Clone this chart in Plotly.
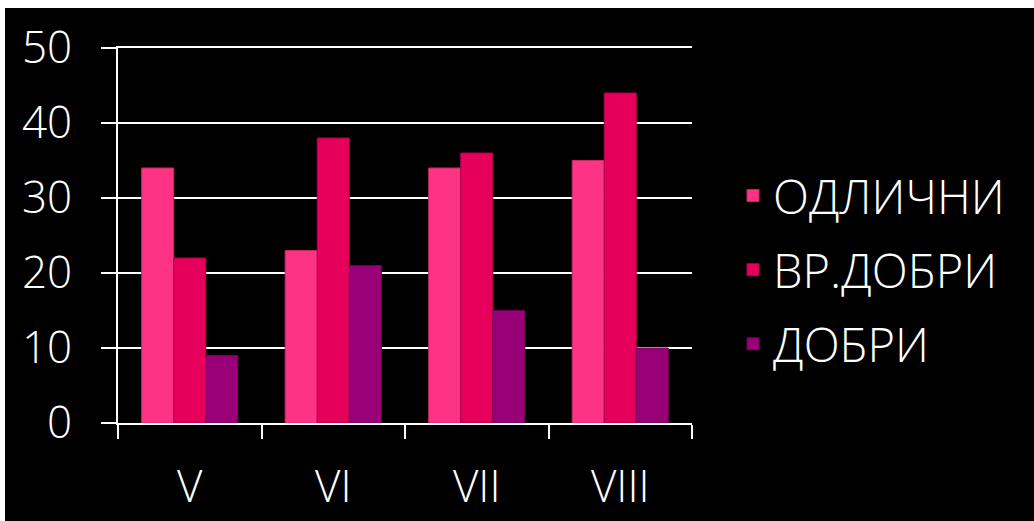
import plotly.graph_objects as go

categories = ["V", "VI", "VII", "VIII"]
series_names = ["ОДЛИЧНИ", "ВР.ДОБРИ", "ДОБРИ"]
odlichni = [34, 23, 34, 35]
vr_dobri = [22, 38, 36, 44]
dobri = [9, 21, 15, 10]
colors = ["#FF3385", "#E6005C", "#990078"]
edge_colors = ["#C8285F", "#B00048", "#700058"]

FONT = "Open Sans"
WT = 300

fig = go.Figure()
for name, vals, c, ec in zip(series_names, [odlichni, vr_dobri, dobri], colors, edge_colors):
    fig.add_trace(go.Bar(
        x=categories, y=vals, name=name, legendgroup=name,
        marker=dict(color=c, line=dict(color=ec, width=1)),
    ))

W, H = 1034, 521
L, R, T, B = 118, 342, 48, 98
pw, ph = W - L - R, H - T - B

fig.update_layout(
    width=W, height=H, autosize=False,
    margin=dict(l=L, r=R, t=T, b=B, pad=0, autoexpand=False),
    paper_bgcolor="black", plot_bgcolor="black",
    barmode="group", bargap=0.33, bargroupgap=0,
    font=dict(family=FONT, color="white", size=40, weight=WT),
    showlegend=True,
    legend=dict(
        x=(733 - L) / pw, y=(H - B - 270) / ph, xanchor="left", yanchor="middle",
        font=dict(family=FONT, size=47, color="white", weight=WT),
        bgcolor="rgba(0,0,0,0)", tracegroupgap=10,
    ),
    xaxis=dict(
        automargin=False,
        showgrid=False, showline=True, mirror=True, linecolor="white", linewidth=2,
        zeroline=False,
        ticks="outside", ticklen=14, tickwidth=2, tickcolor="white",
        tickson="boundaries", ticklabelstandoff=24,
        tickfont=dict(family=FONT, size=44, color="white", weight=WT),
    ),
    yaxis=dict(
        automargin=False,
        range=[0, 50], tickvals=[0, 10, 20, 30, 40, 50],
        showgrid=True, gridcolor="white", gridwidth=2,
        showline=True, linecolor="white", linewidth=2, zeroline=False,
        ticks="outside", ticklen=15, tickwidth=2, tickcolor="white",
        ticklabelstandoff=20,
        tickfont=dict(family=FONT, size=44, color="white", weight=WT),
    ),
    shapes=[
        dict(type="rect", xref="paper", yref="paper",
             x0=(0 - L) / pw, x1=(5 - L) / pw, y0=(H - B - H) / ph, y1=(H - B) / ph,
             fillcolor="white", line=dict(width=0), layer="above"),
        dict(type="rect", xref="paper", yref="paper",
             x0=(0 - L) / pw, x1=(W - L) / pw, y0=(H - B - 8) / ph, y1=(H - B) / ph,
             fillcolor="white", line=dict(width=0), layer="above"),
    ],
)

fig.write_html("out.html", config={"displayModeBar": False},
               post_script="document.body.style.margin='0';document.body.style.overflow='hidden';")
